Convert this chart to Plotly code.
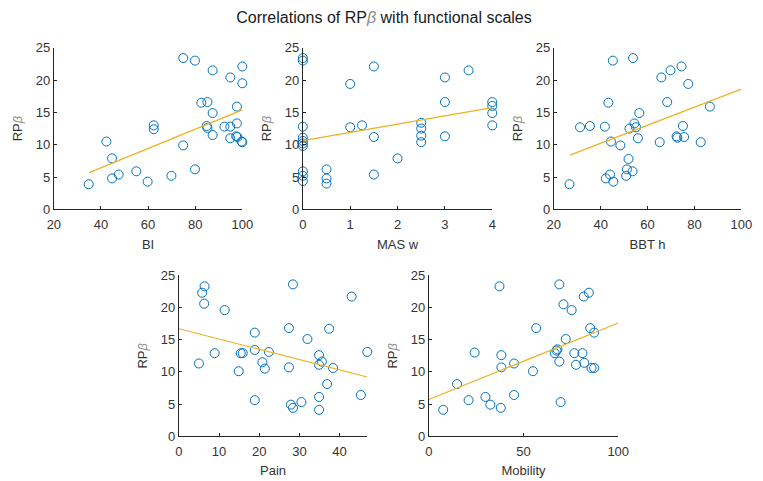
import plotly.graph_objects as go

# ---------------- data ----------------
bi_x = [34.8, 42.3, 44.7, 44.7, 47.5, 55.0, 59.8, 62.4, 62.4, 69.9, 74.9, 74.9, 79.9, 79.9,
        82.6, 85.2, 84.9, 85.2, 87.4, 87.4, 87.4, 92.4, 94.9, 94.9, 94.9, 97.7, 97.7, 97.4,
        97.9, 100, 100, 100, 99.7]
bi_y = [3.9, 10.5, 7.9, 4.8, 5.4, 5.9, 4.3, 13.0, 12.4, 5.2, 23.4, 9.9, 23.0, 6.2,
        16.5, 16.6, 12.9, 12.6, 21.5, 14.9, 11.5, 12.8, 20.4, 12.8, 11.0, 13.3, 15.9, 11.3,
        11.2, 22.1, 19.5, 10.4, 10.5]

mas_x = [0, 0, 0, 0, 0, 0, 0, 0, 0, 0, 0.5, 0.5, 0.5, 1, 1, 1.25, 1.5, 1.5, 1.5, 2,
         2.5, 2.5, 2.5, 2.5, 3, 3, 3, 3.5, 4, 4, 4, 4]
mas_y = [23.4, 23.0, 12.8, 11.1, 10.6, 10.2, 9.8, 5.9, 5.2, 4.4, 6.2, 4.8, 4.0, 19.4, 12.7,
         13.0, 22.1, 11.2, 5.4, 7.9, 13.4, 12.5, 11.4, 10.4, 20.4, 16.6, 11.3, 21.5,
         16.6, 16.0, 14.9, 13.0]

bbt_x = [26.7, 31.2, 35.4, 41.8, 45.2, 53.8, 43.3, 44.4, 48.4, 42.2, 44.0, 45.4, 50.9, 51.2,
         51.9, 53.6, 52.3, 54.4, 55.1, 55.9, 56.5, 65.2, 65.9, 68.4, 69.8, 72.4, 72.7, 74.5,
         75.1, 75.6, 77.4, 82.7, 86.6]
bbt_y = [3.9, 12.7, 12.9, 12.8, 23.0, 23.4, 16.5, 10.5, 9.9, 4.8, 5.4, 4.3, 5.2, 6.2,
         7.8, 5.9, 12.5, 13.3, 12.7, 11.0, 14.9, 10.4, 20.4, 16.6, 21.5, 11.3, 11.1, 22.1,
         12.9, 11.2, 19.4, 10.4, 15.9]

pain_x = [5.0, 5.8, 6.4, 6.3, 8.9, 11.4, 14.9, 15.4, 15.9, 18.9, 18.9, 18.9, 20.8, 21.4,
          22.4, 27.4, 27.4, 28.4, 27.9, 28.4, 30.5, 32.0, 34.9, 34.9, 35.6, 34.9, 34.9,
          36.9, 37.4, 38.4, 43.0, 45.3, 46.9]
pain_y = [11.3, 22.3, 23.3, 20.6, 12.9, 19.6, 10.1, 12.9, 12.9, 16.1, 13.4, 5.6, 11.5, 10.5,
          13.1, 16.8, 10.7, 23.6, 4.9, 4.4, 5.3, 15.1, 12.6, 11.1, 11.6, 6.1, 4.1,
          8.1, 16.7, 10.6, 21.7, 6.4, 13.1]

mob_x = [7.6, 14.9, 21.0, 24.2, 29.9, 32.5, 37.3, 38.0, 38.3, 38.3, 45.0, 45.0, 55.0, 56.7,
         66.5, 67.4, 67.9, 68.9, 68.9, 69.6, 71.1, 72.3, 75.4, 76.8, 77.7, 81.1, 81.8, 82.1,
         84.5, 85.2, 85.9, 87.3, 87.3]
mob_y = [4.1, 8.1, 5.6, 13.0, 6.1, 4.9, 23.3, 4.4, 12.6, 10.7, 11.3, 6.4, 10.1, 16.8,
         12.9, 13.3, 13.5, 23.6, 11.6, 5.3, 20.5, 15.1, 19.6, 12.9, 11.1, 12.9, 21.7, 11.4,
         22.3, 16.8, 10.6, 10.6, 16.1]

# least-squares line endpoints
bi_fit_x, bi_fit_y = [35, 100], [5.7, 15.4]
mas_fit_x, mas_fit_y = [0, 4], [10.65, 15.75]
bbt_fit_x, bbt_fit_y = [26.9, 100], [8.4, 18.6]
pain_fit_x, pain_fit_y = [0, 46.9], [16.7, 9.2]
mob_fit_x, mob_fit_y = [0, 100], [5.7, 17.6]

x_titles = ["BI", "MAS w", "BBT h", "Pain", "Mobility"]
x_ranges = [[20, 100], [0, 4], [20, 100], [0, 46.9], [0, 100]]
x_ticks = [[20, 40, 60, 80, 100], [0, 1, 2, 3, 4], [20, 40, 60, 80, 100],
           [0, 10, 20, 30, 40], [0, 50, 100]]
y_ticks = [0, 5, 10, 15, 20, 25]

# ---------------- figure ----------------
W, H = 763, 481
BLUE = "#0072BD"
GOLD = "#EDB120"
AX = "#262626"
TXT = "#333333"
FONT = "Arial, Liberation Sans, Helvetica, sans-serif"

panels = [
    (bi_x, bi_y, bi_fit_x, bi_fit_y, (48, 241), (42, 209)),
    (mas_x, mas_y, mas_fit_x, mas_fit_y, (303, 497), (42, 209)),
    (bbt_x, bbt_y, bbt_fit_x, bbt_fit_y, (560, 752), (42, 209)),
    (pain_x, pain_y, pain_fit_x, pain_fit_y, (176, 369), (277, 443)),
    (mob_x, mob_y, mob_fit_x, mob_fit_y, (432, 626), (277, 443)),
]

fig = go.Figure()
layout = {}
for i, (px, py, fx, fy, (x0, x1), (y0, y1)) in enumerate(panels):
    n = "" if i == 0 else str(i + 1)
    xa, ya = "x" + n, "y" + n
    fig.add_trace(go.Scatter(
        x=px, y=py, xaxis=xa, yaxis=ya, mode="markers", cliponaxis=False,
        marker=dict(symbol="circle-open", size=9, color=BLUE, line=dict(width=1, color=BLUE)),
        showlegend=False, hoverinfo="x+y"))
    fig.add_trace(go.Scatter(
        x=fx, y=fy, xaxis=xa, yaxis=ya, mode="lines",
        line=dict(color=GOLD, width=1.2), showlegend=False, hoverinfo="skip"))
    common = dict(showline=True, linecolor=AX, linewidth=1, mirror=False, showgrid=False,
                  zeroline=False, ticks="inside", ticklen=3, tickcolor=AX,
                  tickfont=dict(family=FONT, size=13, color=TXT))
    layout["xaxis" + n] = dict(
        domain=[x0 / W, x1 / W], anchor=ya, range=x_ranges[i], tickmode="array",
        tickvals=x_ticks[i], ticklabelstandoff=3,
        title=dict(text=x_titles[i], standoff=8, font=dict(family=FONT, size=13, color=TXT)),
        **common)
    layout["yaxis" + n] = dict(
        domain=[1 - y1 / H, 1 - y0 / H], anchor=xa, range=[0, 25], tickmode="array",
        tickvals=y_ticks,
        title=dict(text="RP<i><span style='color:#8a8a8a'>β</span></i>", standoff=10,
                   font=dict(family=FONT, size=13, color=TXT)),
        **common)

fig.update_layout(
    width=W, height=H, margin=dict(l=0, r=0, t=0, b=0),
    paper_bgcolor="white", plot_bgcolor="white",
    title=dict(text="Correlations of RP<i><span style='color:#8a8a8a'>β</span></i> with functional scales",
               x=384 / W, xanchor="center", y=1 - 17 / H, yanchor="middle",
               font=dict(family=FONT, size=16, color="#1a1a1a")),
    **layout)

fig.write_html("out.html")
